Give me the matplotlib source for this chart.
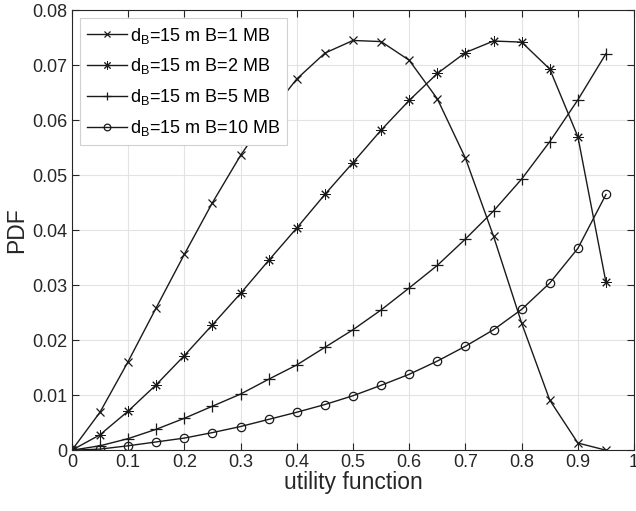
import numpy as np
import matplotlib
matplotlib.use('Agg')
import matplotlib.pyplot as plt

plt.rcParams['font.family'] = ['Liberation Sans', 'DejaVu Sans']
plt.rcParams['mathtext.fontset'] = 'custom'
plt.rcParams['mathtext.rm'] = 'Liberation Sans'
plt.rcParams['mathtext.it'] = 'Liberation Sans'

# utility function values
u = [0, 0.05, 0.1, 0.15, 0.2, 0.25, 0.3, 0.35, 0.4, 0.45,
     0.5, 0.55, 0.6, 0.65, 0.7, 0.75, 0.8, 0.85, 0.9, 0.95]

pdf_1mb = [0, 0.0069, 0.0161, 0.0259, 0.0356, 0.0450, 0.0536, 0.0610, 0.0675, 0.0722,
           0.0745, 0.0743, 0.0709, 0.0639, 0.0531, 0.0389, 0.0231, 0.0091, 0.0013, 0.0]
pdf_2mb = [0, 0.0028, 0.0071, 0.0119, 0.0172, 0.0228, 0.0285, 0.0345, 0.0404, 0.0465,
           0.0523, 0.0582, 0.0636, 0.0685, 0.0723, 0.0744, 0.0742, 0.0693, 0.0570, 0.0305]
pdf_5mb = [0, 0.0008, 0.0021, 0.0038, 0.0058, 0.0080, 0.0102, 0.0129, 0.0155, 0.0187,
           0.0219, 0.0255, 0.0295, 0.0336, 0.0384, 0.0435, 0.0493, 0.0561, 0.0637, 0.0721]
pdf_10mb = [0, 0.0002, 0.0008, 0.0015, 0.0022, 0.0032, 0.0043, 0.0056, 0.0069, 0.0083,
            0.0099, 0.0118, 0.0138, 0.0162, 0.0189, 0.0219, 0.0256, 0.0304, 0.0367, 0.0465]

labels = ['d$_\\mathrm{B}$=15 m B=1 MB', 'd$_\\mathrm{B}$=15 m B=2 MB',
          'd$_\\mathrm{B}$=15 m B=5 MB', 'd$_\\mathrm{B}$=15 m B=10 MB']

fig = plt.figure(figsize=(6.36, 5.11), dpi=100)
ax = fig.add_axes([0.113, 0.119, 0.884, 0.861])

col = '#1a1a1a'
ax.plot(u, pdf_1mb, color=col, lw=1, marker='x', ms=6, mew=0.9, label=labels[0])
ax.plot(u, pdf_2mb, color=col, lw=1, marker=(8, 2, 0), ms=7.5, mew=0.7, label=labels[1])
ax.plot(u, pdf_5mb, color=col, lw=1, marker='+', ms=8, mew=0.9, label=labels[2])
ax.plot(u, pdf_10mb, color=col, lw=1, marker='o', ms=6, mew=0.9, mfc='none', label=labels[3])

ax.set_xlim(0, 1)
ax.set_ylim(0, 0.08)
ax.set_xticks(np.arange(0, 1.01, 0.1))
ax.set_xticklabels(['0', '0.1', '0.2', '0.3', '0.4', '0.5', '0.6', '0.7', '0.8', '0.9', '1'])
ax.set_yticks(np.arange(0, 0.081, 0.01))
ax.set_yticklabels(['0', '0.01', '0.02', '0.03', '0.04', '0.05', '0.06', '0.07', '0.08'])
ax.tick_params(direction='in', top=True, right=True, labelsize=13, length=5, pad=3,
               color='#262626', labelcolor='#262626')
ax.grid(True, color='#e3e3e3', lw=0.8)
ax.set_axisbelow(True)
for s in ax.spines.values():
    s.set_color('#262626')
    s.set_linewidth(0.8)

ax.set_xlabel('utility function', fontsize=16.5, color='#262626', labelpad=0)
ax.set_ylabel('PDF', fontsize=16.5, color='#262626', labelpad=3)

leg = ax.legend(loc='upper left', fontsize=13, frameon=True, fancybox=False,
                edgecolor='#d0d0d0', framealpha=1, handlelength=2.2, markerscale=0.8,
                handletextpad=0.15, borderaxespad=0.45, labelspacing=0.6, borderpad=0.4)
leg.get_frame().set_linewidth(0.8)

fig.savefig('out.png', dpi=100)
